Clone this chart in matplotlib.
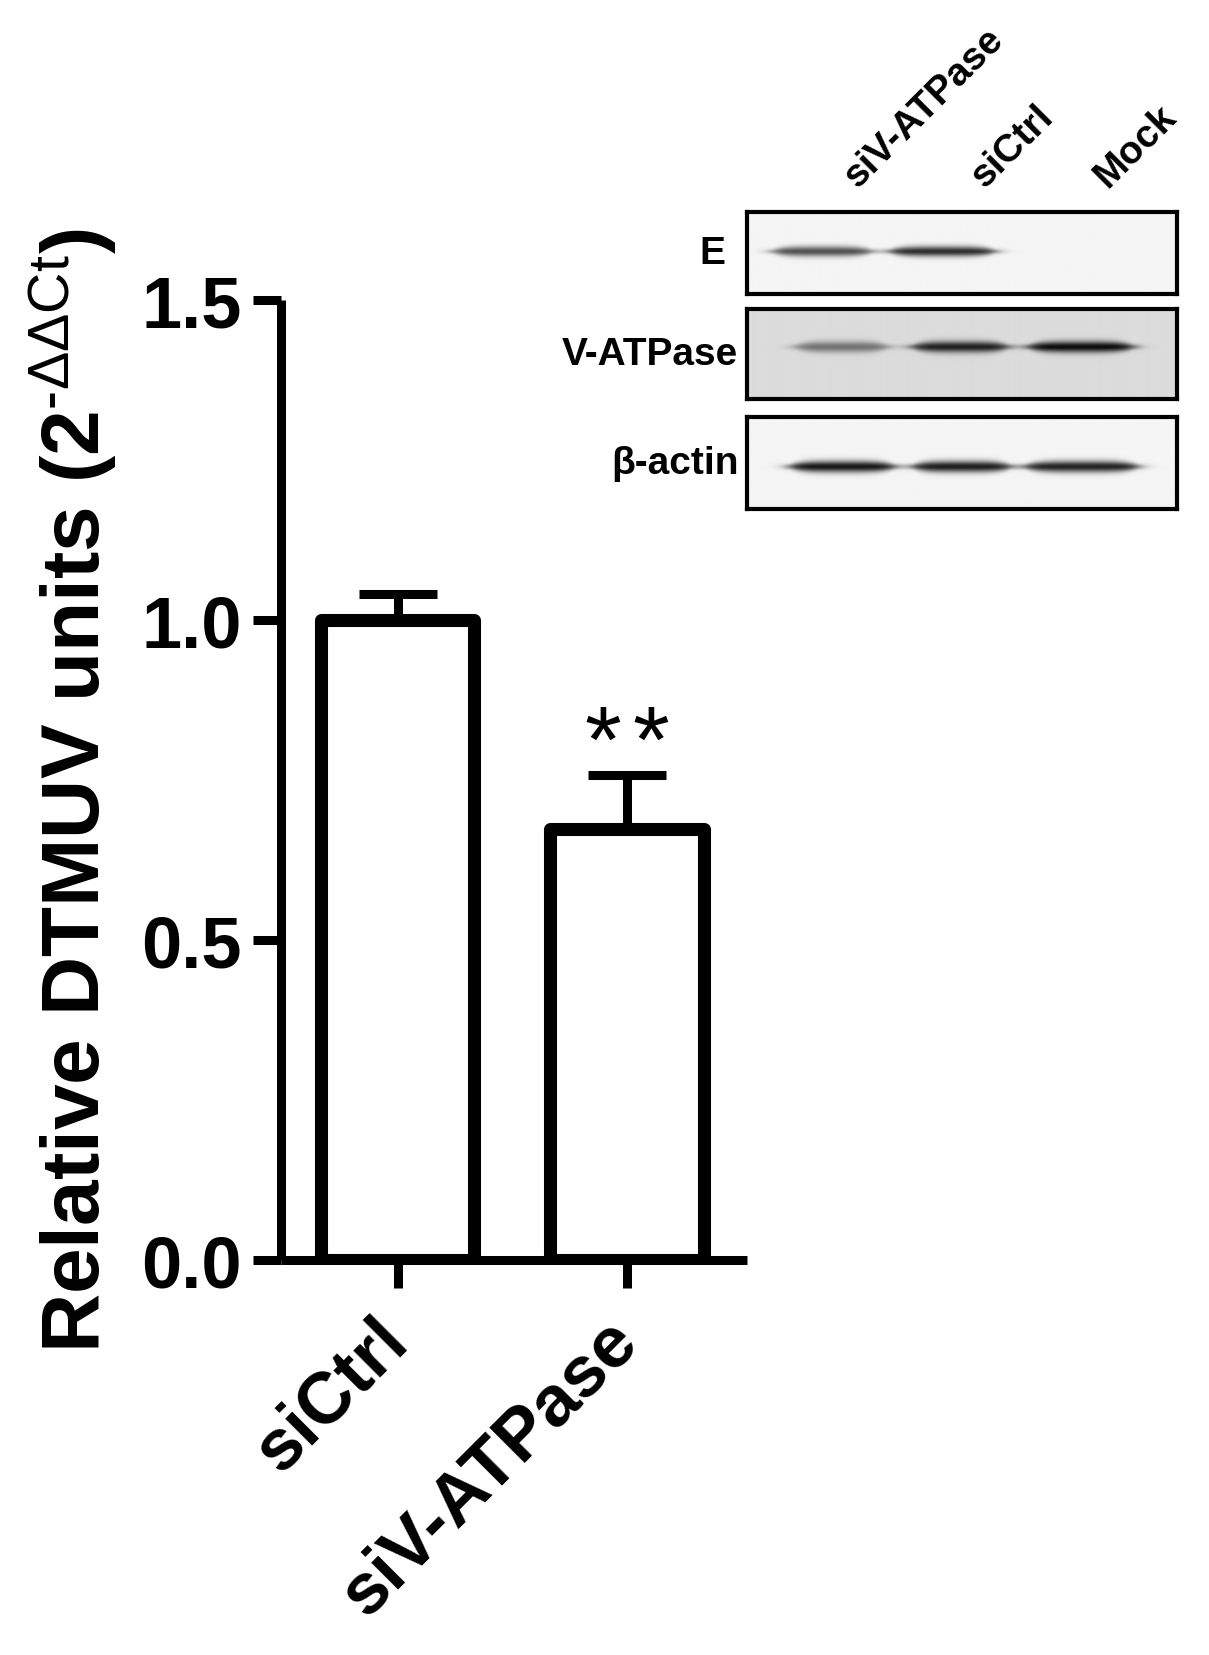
import numpy as np
import matplotlib
matplotlib.use("Agg")
import matplotlib.pyplot as plt

plt.rcParams['font.family'] = ['Liberation Sans', 'DejaVu Sans']
plt.rcParams['mathtext.fontset'] = 'custom'
plt.rcParams['mathtext.rm'] = 'Liberation Sans'
plt.rcParams['mathtext.it'] = 'Liberation Sans:italic'
plt.rcParams['mathtext.bf'] = 'Liberation Sans:bold'

# qPCR bar data
categories = ['siCtrl', 'siV-ATPase']
means = [1.0, 0.673]
sem = [0.041, 0.085]
significance = ['', '**']

# western blot inset (relative band darkness per lane)
lanes = ['siV-ATPase', 'siCtrl', 'Mock']
blot_rows = ['E', 'V-ATPase', 'β-actin']
band_E = [0.70, 0.85, 0.0]
band_vatpase = [0.50, 0.90, 1.0]
band_actin = [0.95, 0.92, 0.90]
blot_bands = [band_E, band_vatpase, band_actin]
blot_bg = [0.96, 0.86, 0.96]

W, H = 1209, 1656
fig = plt.figure(figsize=(W / 100, H / 100), dpi=100)


def px_axes(x0, y0, x1, y1):
    """axes from pixel box (top-left origin)"""
    return fig.add_axes([x0 / W, (H - y1) / H, (x1 - x0) / W, (y1 - y0) / H])


# ---- main bar chart ----
ax = px_axes(281, 301, 747, 1261)
x = np.arange(len(categories))
ax.bar(x, means, width=0.67, color='white', edgecolor='black',
       linewidth=9.4, joinstyle='round', zorder=3)
ax.errorbar(x, means, yerr=[[0] * len(sem), sem], fmt='none', ecolor='black',
            elinewidth=6.5, capsize=28, capthick=6.5, zorder=2)
for xi, m, e, s in zip(x, means, sem, significance):
    if s:
        for k in range(len(s)):
            ax.text(xi + (k - (len(s) - 1) / 2) * 0.208, m + e + 0.045, '*',
                    ha='center', va='center', fontsize=68)

ax.set_xlim(-0.508, 1.523)
ax.set_ylim(0, 1.5)
ax.set_yticks([0, 0.5, 1.0, 1.5])
ax.set_yticklabels(['0.0', '0.5', '1.0', '1.5'], fontsize=52, fontweight='bold')
ax.set_xticks(x)
ax.set_xticklabels(categories, fontsize=52, fontweight='bold', rotation=45,
                   ha='right', va='center', rotation_mode='anchor')
ax.tick_params(axis='both', length=20, width=6.5, color='black')
ax.tick_params(axis='y', pad=8)
ax.tick_params(axis='x', pad=30)
for side in ['top', 'right']:
    ax.spines[side].set_visible(False)
for side in ['left', 'bottom']:
    ax.spines[side].set_linewidth(6.5)
    ax.spines[side].set_capstyle('butt')
ax.set_ylabel('Relative DTMUV units (2$^{\\text{-ΔΔCt}}$)', fontsize=59,
              fontweight='bold')
ax.yaxis.set_label_coords(-0.345, 0.49)

# ---- western blot inset ----
box_px = [(747, 213, 1177, 295), (747, 310, 1177, 400), (747, 418, 1177, 510)]
lane_centers = [[0.174, 0.453, 0.775], [0.219, 0.495, 0.775], [0.221, 0.498, 0.777]]
lane_widths = [[0.23, 0.245, 0.24], [0.214, 0.223, 0.244], [0.244, 0.228, 0.263]]
band_y = [0.52, 0.58, 0.46]
label_x = [-0.05, -0.02, -0.02]

gx = np.linspace(0, 1, 430)
gy = np.linspace(0, 1, 90)
GX, GY = np.meshgrid(gx, gy)
blot_axes = []
for r, (row, bands) in enumerate(zip(blot_rows, blot_bands)):
    bax = px_axes(*box_px[r])
    dark = np.zeros_like(GX)
    for c, w, v in zip(lane_centers[r], lane_widths[r], bands):
        xprof = 1 / (1 + np.exp(-(GX - (c - w / 2)) / 0.012)) * \
            1 / (1 + np.exp((GX - (c + w / 2)) / 0.012))
        sig = 0.045 * (0.5 + 0.5 * np.clip(1 - ((GX - c) / (w / 2)) ** 4, 0, 1))
        dark += v * xprof * np.exp(-0.5 * ((GY - band_y[r]) / sig) ** 2)
    img = blot_bg[r] - np.clip(dark, 0, 1) * (blot_bg[r] - 0.05)
    bax.imshow(img, cmap='gray', vmin=0, vmax=1, extent=[0, 1, 0, 1],
               origin='lower', aspect='auto', interpolation='bilinear')
    bax.set_xticks([])
    bax.set_yticks([])
    for sp in bax.spines.values():
        sp.set_linewidth(3)
    bax.text(label_x[r], 0.5, row, transform=bax.transAxes, ha='right',
             va='center', fontsize=28, fontweight='bold')
    blot_axes.append(bax)

lane_label_x = [0.258, 0.553, 0.838]
for lx, lane in zip(lane_label_x, lanes):
    blot_axes[0].text(lx, 1.29, lane, transform=blot_axes[0].transAxes,
                      rotation=45, rotation_mode='anchor', ha='left',
                      va='baseline', fontsize=28, fontweight='bold')

fig.savefig('out.png', dpi=100)
